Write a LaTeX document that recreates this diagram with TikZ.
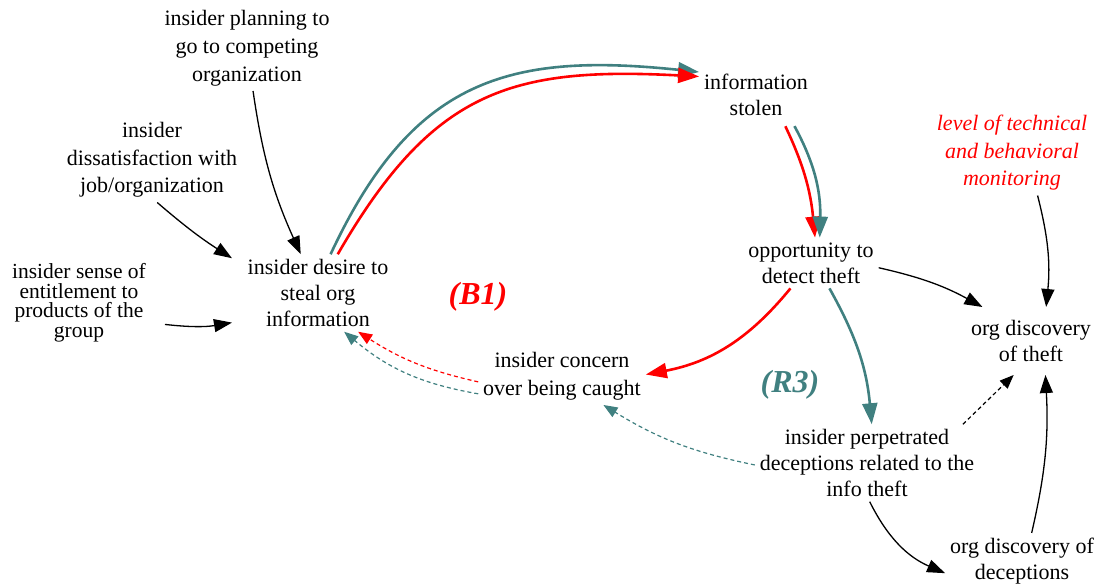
\documentclass[tikz,border=0pt]{standalone}
\usepackage{fontspec}
\setmainfont{Liberation Serif}
\usetikzlibrary{arrows.meta, positioning}
\definecolor{loopTeal}{RGB}{64,128,128}
\colorlet{loopRed}{red}
\tikzstyle{var}=[align=center, inner sep=2pt, outer sep=3pt, font=\fontsize{22}{26}\selectfont]
\tikzstyle{loopName}=[font=\fontsize{32}{36}\selectfont\bfseries\itshape]
\tikzstyle{arrow}=[-{Triangle[length=18pt,width=13pt]}, line width=1.3pt, draw=black]
\tikzstyle{tealArrow}=[-{Triangle[length=21pt,width=15pt]}, line width=2.6pt, draw=loopTeal]
\tikzstyle{redArrow}=[-{Triangle[length=21pt,width=15pt]}, line width=2.6pt, draw=loopRed]
\tikzstyle{dashArrow}=[-{Triangle[length=14pt,width=11pt]}, line width=1.2pt, dash pattern=on 4pt off 3pt]

\begin{document}
\begin{tikzpicture}[x=1pt, y=1pt]
      \useasboundingbox (0,0) rectangle (1104,586);
      \node(plan) at (247,538) [var, font=\fontsize{22}{28}\selectfont] {insider planning to\\go to competing\\organization};
      \node(dissat) at (152,426) [var, font=\fontsize{22}{27.5}\selectfont] {insider\\dissatisfaction with\\job/organization};
      \node(entitle) at (79,283) [var, minimum width=166pt, font=\fontsize{21.5}{19.5}\selectfont] {insider sense of\\entitlement to\\products of the\\group};
      \node(desire) at (318,293) [var, minimum width=166pt] {insider desire to\\steal org\\information};
      \node(stolen) at (756,491) [var] {information\\stolen};
      \node(opp) at (811,323) [var] {opportunity to\\detect theft};
      \node(monitor) at (1012,433) [var, text=loopRed, font=\fontsize{22}{27.5}\selectfont\itshape] {level of technical\\and behavioral\\monitoring};
      \node(discTheft) at (1031,245) [var, minimum height=62pt] {org discovery\\of theft};
      \node(concern) at (562,210) [var, font=\fontsize{22}{28}\selectfont] {insider concern\\over being caught};
      \node(decept) at (867,123) [var] {insider perpetrated\\deceptions related to the\\info theft};
      \node(discDecept) at (1022,25) [var] {org discovery of\\deceptions};
      \node(b1) at (478,289) [loopName, text=loopRed] {(B1)};
      \node(r3) at (790,201) [loopName, text=loopTeal] {(R3)};
      \draw[arrow] (plan.-82) to[bend right=8] (desire.114);
      \draw[arrow] (dissat.-83) to[bend right=4] (desire.158);
      \draw[arrow] (entitle.-14) to[bend right=8] (desire.199);
      \draw[tealArrow] (desire.72) to[out=65, in=174, looseness=1.2] (stolen.158);
      \draw[redArrow] (desire.63) to[out=60, in=177, looseness=1.2] (stolen.162);
      \draw[redArrow, shorten <=6pt] (stolen.-44) to[bend left=10] (opp.81);
      \draw[tealArrow, shorten <=6pt] (stolen.-36) to[bend left=15] (opp.71);
      \draw[redArrow] (opp.231) to[bend left=20] (concern.1);
      \draw[tealArrow] (opp.-54) to[bend left=12] (decept.83);
      \draw[arrow] (opp.-4) to[bend left=8] (discTheft.145);
      \draw[arrow] (monitor.-59) to[bend left=10] (discTheft.66);
      \draw[dashArrow, draw=loopRed] (concern.184) to[bend left=10] (desire.-44);
      \draw[dashArrow, draw=loopTeal] (concern.192) to[bend left=15] (desire.-56);
      \draw[dashArrow, draw=loopTeal] (decept.181) to[bend left=10] (concern.-35);
      \draw[dashArrow, draw=black] (decept.22) -- (discTheft.-117);
      \draw[arrow] (decept.-86) to[bend right=20] (discDecept.189);
      \draw[arrow] (discDecept.71) to[bend right=8] (discTheft.-67);
    \end{tikzpicture}
\end{document}
